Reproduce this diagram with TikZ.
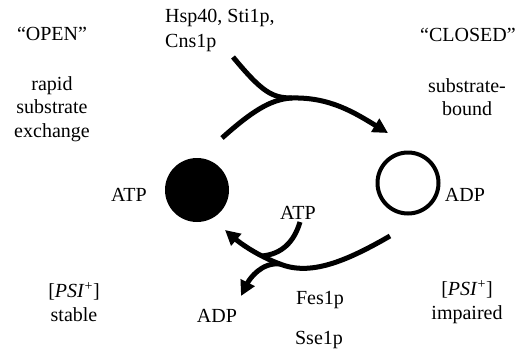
\documentclass[tikz,border=0pt]{standalone}
\usepackage{fontspec}
\setmainfont{Liberation Serif}
\usetikzlibrary{arrows.meta}
\begin{document}
\begin{tikzpicture}[x=1pt,y=-1pt,
  lbl/.style={inner sep=0pt, font=\fontsize{20}{23.5}\selectfont, align=center},
  conn/.style={line width=5pt},
  tip/.style={-{Triangle[length=15pt,width=15pt]}}]
\useasboundingbox (0,0) rectangle (520,354);
% states
\node[circle, fill=black, inner sep=0pt, minimum size=64pt] (open) at (197,190) {};
\node[circle, draw=black, line width=4pt, inner sep=0pt, minimum size=61pt] (closed) at (408,183) {};
% labels
\node[lbl] (openq) at (52,34) {“OPEN”};
\node[lbl] (openexp) at (52,109) {rapid\\substrate\\exchange};
\node[lbl] (closedq) at (468,35) {“CLOSED”};
\node[lbl] (closedexp) at (467,97) {substrate-\\bound};
\node[lbl, align=left, anchor=west, font=\fontsize{20}{25}\selectfont] (hsp) at (165,30) {Hsp40, Sti1p,\\Cns1p};
\node[lbl] (atpl) at (129,195) {ATP};
\node[lbl] (adpr) at (465,195) {ADP};
\node[lbl] (atpm) at (298,213) {ATP};
\node[lbl] (adpb) at (217,316) {ADP};
\node[lbl] (fes) at (320,300) {Fes1p};
\node[lbl] (sse) at (319,340) {Sse1p};
\node[lbl] (psil) at (74,302) {[\textit{PSI}\textsuperscript{+}]\\stable};
\node[lbl] (psir) at (467,302) {[\textit{PSI}\textsuperscript{+}]\\impaired};
% top connector
\coordinate (a1) at (233,57);
\coordinate (a2) at (222,138);
\coordinate (j1) at (292,98);
\coordinate (a3) at (388,133);
\draw[conn,tip] (a1) .. controls (262,92) and (272,98) .. (j1) .. controls (330,97) and (355,113) .. (a3);
\draw[conn] (a2) .. controls (250,113) and (270,99) .. (j1);
% bottom connector
\coordinate (b1) at (390,236);
\coordinate (j2) at (280,264);
\coordinate (b2) at (225,230);
\coordinate (b3) at (300,222);
\coordinate (m2) at (262,256);
\coordinate (b4) at (241,296);
\draw[conn,tip] (b1) .. controls (345,262) and (310,276) .. (j2) .. controls (258,256) and (240,243) .. (b2);
\draw[conn] (b3) .. controls (294,242) and (282,254) .. (m2);
\draw[conn,tip] (j2) .. controls (262,262) and (250,278) .. (b4);
\end{tikzpicture}
\end{document}
